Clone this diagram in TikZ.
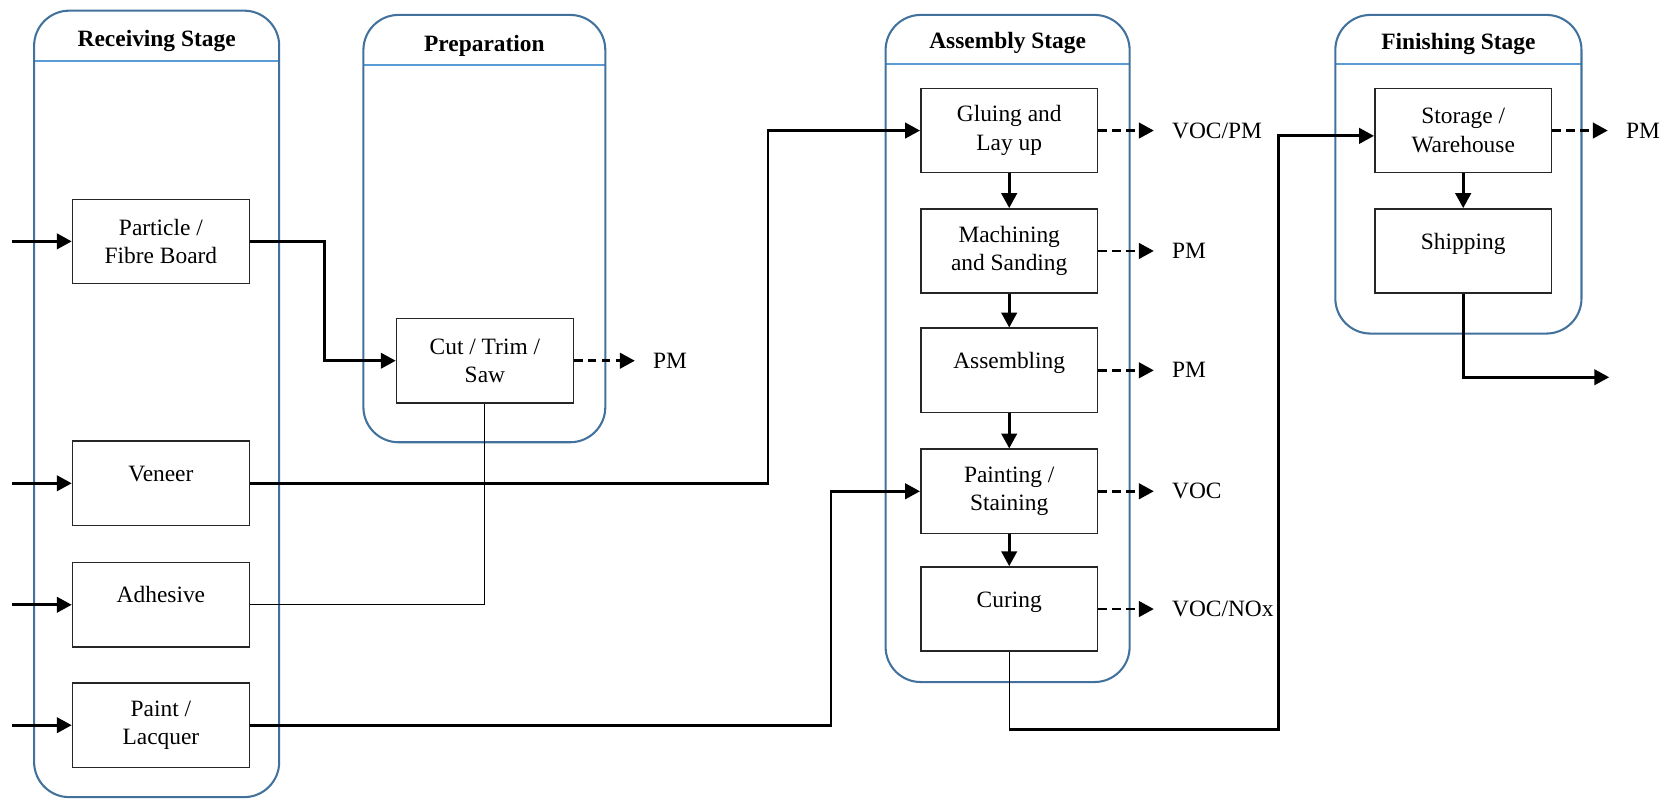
\documentclass[tikz,border=0pt]{standalone}
\usepackage{fontspec}
\setmainfont{Liberation Serif}
\usetikzlibrary{arrows.meta}

\definecolor{stageblue}{RGB}{65,113,156}
\definecolor{headblue}{RGB}{91,155,213}

\begin{document}
\begin{tikzpicture}[line join=miter,>={Triangle[length=2.8mm,width=2.9mm]},x=0.2mm,y=-0.2mm,
    stage/.style={draw=stageblue, line width=1.1pt, rounded corners=6.6mm},
    head/.style={draw=headblue, line width=0.9pt},
    title/.style={font=\fontsize{12.5}{15}\selectfont\bfseries},
    proc/.style={draw=black!85, line width=0.8pt, minimum width=33.2mm, minimum height=15.8mm,
        align=center, inner sep=0pt, font=\fontsize{12.5}{15.3}\selectfont},
    one/.style={text height=9pt, text depth=11pt},
    flow/.style={line width=1.5pt},
    emit/.style={line width=1.5pt, dash pattern=on 1.6mm off 1mm},
    link/.style={line width=0.5pt},
    gas/.style={font=\fontsize{12.5}{15}\selectfont, anchor=west, xshift=2mm}]
    \useasboundingbox (0,0) rectangle (1568,749);

    % stage containers
    \draw[head] (32,57) -- (262,57);
    \draw[stage] (32,10) rectangle (262,748);
    \node[title] (t-recv) at (147,38) {Receiving Stage};

    \draw[head] (341,61) -- (568,61);
    \draw[stage] (341,14) rectangle (568,415);
    \node[title] (t-prep) at (454.5,43) {Preparation};

    \draw[head] (831,60) -- (1060,60);
    \draw[stage] (831,14) rectangle (1060,640);
    \node[title] (t-asm) at (945.5,40) {Assembly Stage};

    \draw[head] (1253,60) -- (1484,60);
    \draw[stage] (1253,14) rectangle (1484,313);
    \node[title] (t-fin) at (1368.5,41) {Finishing Stage};

    % receiving
    \node[proc] (part) at (151,226.5) {Particle /\\Fibre Board};
    \node[proc, one] (ven) at (151,453.5) {Veneer};
    \node[proc, one] (adh) at (151,567.5) {Adhesive};
    \node[proc] (pai) at (151,680.5) {Paint /\\Lacquer};

    % preparation
    \node[proc] (cut) at (455,338.5) {Cut / Trim /\\Saw};

    % assembly
    \node[proc] (glu) at (947,122.5) {Gluing and\\Lay up};
    \node[proc] (mac) at (947,235.5) {Machining\\and Sanding};
    \node[proc, one] (asm) at (947,347.5) {Assembling};
    \node[proc] (pnt) at (947,461) {Painting /\\Staining};
    \node[proc, one] (cur) at (947,571.5) {Curing};

    % finishing
    \node[proc] (sto) at (1373,122.5) {Storage /\\Warehouse};
    \node[proc, one] (shp) at (1373,235.5) {Shipping};

    % raw material inputs
    \foreach \n in {part,ven,adh,pai}
        \draw[flow,->] ([xshift=-11.2mm]\n.west) -- (\n.west);

    % material flow
    \draw[flow,->] (part.east) -- ++(70,0) |- (cut.west);
    \draw[flow,->] (ven.east) -- ++(486,0) |- (glu.west);
    \draw[flow,->] (pai.east) -- ++(545,0) |- (pnt.west);
    \draw[link] (cut.south) |- (adh.east);

    \foreach \a/\b in {glu/mac, mac/asm, asm/pnt, pnt/cur}
        \draw[flow,->] (\a) -- (\b);
    \draw[link] (cur.south) -- ++(0,73) coordinate (cbend);
    \draw[flow,->] (cbend) -- ++(253,0) |- ([yshift=-1mm]sto.west);

    \draw[flow,->] (sto) -- (shp);
    \coordinate (ship-out) at (1510,354);
    \draw[flow,->] (shp.south) |- (ship-out);

    % emissions
    \foreach \n/\t in {glu/{VOC/PM}, mac/PM, asm/PM, pnt/VOC, cur/{VOC/NOx}, sto/PM}
        \draw[emit,->] (\n.east) -- ++(52,0) node[gas] (g-\n) {\t};
    \draw[emit,->] (cut.east) -- ++(57,0) node[gas] (g-cut) {PM};
\end{tikzpicture}
\end{document}
